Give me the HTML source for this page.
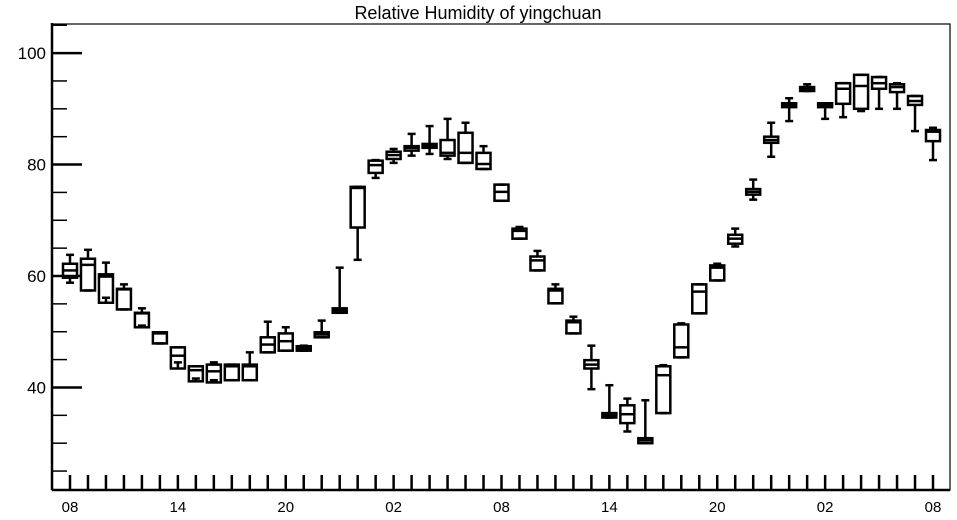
<!DOCTYPE html>
<html><head><meta charset="utf-8"><style>
body{margin:0;background:#fff;}
svg{display:block;font-family:"Liberation Sans",Arial,sans-serif;}
</style></head><body>
<svg id="chart" width="957" height="520">
<text x="478" y="19" text-anchor="middle" font-size="18">Relative Humidity of yingchuan</text>
<rect x="52" y="24" width="898" height="466" fill="none" stroke="#000" stroke-width="1.2"/>
<g id="axes"></g>
<g id="boxes"></g>
</svg>
<script>
const hours = ["08","09","10","11","12","13","14","15","16","17","18","19","20","21","22","23","00","01","02","03","04","05","06","07","08","09","10","11","12","13","14","15","16","17","18","19","20","21","22","23","00","01","02","03","04","05","06","07","08"];
const q3 = [62.2,63.1,60.3,57.7,53.4,49.9,47.2,43.8,44.1,44.1,44.1,49.0,49.7,47.4,49.9,54.2,76.0,80.7,82.3,83.3,83.7,84.4,85.7,82.1,76.4,68.5,63.5,57.7,52.0,44.9,35.4,36.8,30.9,43.8,51.3,58.5,61.9,67.4,75.6,85.0,91.0,93.9,91.0,94.6,96.1,95.7,94.4,92.3,86.2];
const q1 = [59.7,57.4,55.2,54.0,50.8,47.9,43.4,41.1,40.9,41.3,41.3,46.3,46.6,46.6,49.0,53.4,68.7,78.5,81.0,82.5,83.0,81.6,80.3,79.2,73.5,66.7,61.0,55.1,49.7,43.4,34.6,33.6,30.0,35.4,45.4,53.3,59.2,65.8,74.6,83.9,90.3,93.2,90.3,90.9,90.0,93.6,93.0,90.7,84.2];
const med = [61.0,62.0,59.9,57.6,53.3,49.7,45.7,43.1,42.9,43.8,43.8,47.7,48.3,47.0,49.5,53.8,75.8,79.9,81.7,83.0,83.3,82.1,82.1,80.1,75.1,68.1,62.8,57.4,51.7,44.1,35.0,35.2,30.5,42.2,47.2,57.2,61.5,66.7,75.1,84.4,90.7,93.6,90.7,93.6,94.1,94.6,93.9,91.4,85.9];
const whiHi = [63.8,64.7,62.4,58.5,54.2,49.9,47.2,43.8,44.5,44.1,46.3,51.8,50.8,47.5,52.0,61.5,76.0,80.8,82.8,85.5,86.9,88.2,87.5,83.3,76.4,68.8,64.5,58.5,52.7,47.5,40.4,38.0,37.7,44.0,51.5,58.5,62.2,68.5,77.3,87.5,91.9,94.4,91.0,94.6,96.1,95.7,94.6,92.3,86.6];
const whiLo = [58.8,57.4,56.1,54.0,51.1,47.9,44.5,41.6,41.3,41.3,41.3,46.3,46.6,46.6,49.0,53.4,62.9,77.6,80.3,81.6,81.9,81.0,80.3,79.2,73.5,66.7,61.0,55.1,49.7,39.7,34.6,32.1,30.0,35.4,45.4,53.3,59.2,65.3,73.7,81.4,87.8,93.2,88.2,88.5,89.6,90.0,90.0,86.0,80.8];
const yTicks = [40,60,80,100];

const NS="http://www.w3.org/2000/svg";
const yMin=21.6,yMax=105.4,plotTop=23,plotBottom=490;
function ys(v){return plotBottom-(v-yMin)/(yMax-yMin)*(plotBottom-plotTop);}
function xs(i){return 70+i*(933-70)/48;}
function el(t,a,p){const e=document.createElementNS(NS,t);for(const k in a)e.setAttribute(k,a[k]);p.appendChild(e);return e;}
const axes=document.getElementById('axes'),boxes=document.getElementById('boxes');
el('line',{x1:52,y1:plotTop,x2:52,y2:plotBottom,stroke:'#000','stroke-width':2.5},axes);
el('line',{x1:52,y1:plotBottom,x2:950,y2:plotBottom,stroke:'#000','stroke-width':2.5},axes);
for(let v=25;v<=105;v+=5){
  const major=yTicks.includes(v);
  const t=el('line',{x1:52,y1:ys(v),x2:major?82:67,y2:ys(v),stroke:'#000','stroke-width':major?2.5:1.5},axes);
  
  
}
yTicks.forEach(v=>{
  const t=el('text',{x:46,y:ys(v)+6,'text-anchor':'end','font-size':17},axes);
  t.textContent=v;
  
  
});
hours.forEach((h,i)=>{
  const t=el('line',{x1:xs(i),y1:plotBottom,x2:xs(i),y2:plotBottom-15,stroke:'#000','stroke-width':2.5},axes);
  
  
  if(i%6===0){
    const l=el('text',{x:xs(i),y:512,'text-anchor':'middle','font-size':15},axes);
    l.textContent=h;
    
    
  }
});
hours.forEach((h,i)=>{
  const g=el('g',{stroke:'#000','stroke-width':2.5,fill:'none'},boxes);
  
  
  const x=xs(i),w=14,cw=8;
  el('line',{x1:x,y1:ys(whiHi[i]),x2:x,y2:ys(q3[i])},g);
  el('line',{x1:x,y1:ys(q1[i]),x2:x,y2:ys(whiLo[i])},g);
  el('line',{x1:x-cw/2,y1:ys(whiHi[i]),x2:x+cw/2,y2:ys(whiHi[i])},g);
  el('line',{x1:x-cw/2,y1:ys(whiLo[i]),x2:x+cw/2,y2:ys(whiLo[i])},g);
  el('rect',{x:x-w/2,y:ys(q3[i]),width:w,height:Math.max(1,ys(q1[i])-ys(q3[i]))},g);
  el('line',{x1:x-w/2,y1:ys(med[i]),x2:x+w/2,y2:ys(med[i])},g);
});
</script>
</body></html>
